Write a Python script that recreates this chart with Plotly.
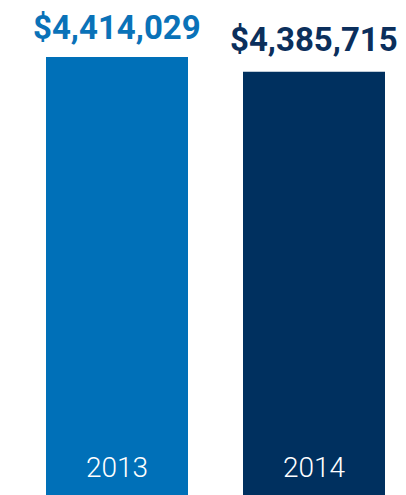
import plotly.graph_objects as go

years = ["2013", "2014"]
values = [4414029, 4385715]
value_labels = ["$4,414,029", "$4,385,715"]
bar_colors = ["#0070b8", "#00305f"]
label_colors = ["#0a72b8", "#0b2f5c"]

bar_base = 3570394
axis_min = 3554985
axis_max = 4508385

fig = go.Figure()
fig.add_trace(go.Bar(
    x=years,
    y=[v - bar_base for v in values],
    base=bar_base,
    width=0.7208,
    marker=dict(color=bar_colors, line=dict(width=0)),
    hoverinfo="skip",
))

label_shifts = [8, 11]
for i, (yr, v, lab, col) in enumerate(zip(years, values, value_labels, label_colors)):
    fig.add_annotation(
        x=i, y=v, text=lab, showarrow=False,
        yanchor="bottom", yshift=label_shifts[i],
        font=dict(family="Roboto", size=33, color=col, weight=700),
    )
    fig.add_annotation(
        x=i, y=bar_base, text=yr, showarrow=False,
        yanchor="bottom", yshift=9,
        font=dict(family="Roboto", size=28, color="white", weight=300),
    )

fig.update_layout(
    width=406, height=495,
    margin=dict(l=0, r=0, t=0, b=0),
    paper_bgcolor="white", plot_bgcolor="white",
    showlegend=False,
    xaxis=dict(visible=False, range=[-0.5533, 1.5076], type="category"),
    yaxis=dict(visible=False, range=[axis_min, axis_max]),
)

fig.write_html("out.html")
